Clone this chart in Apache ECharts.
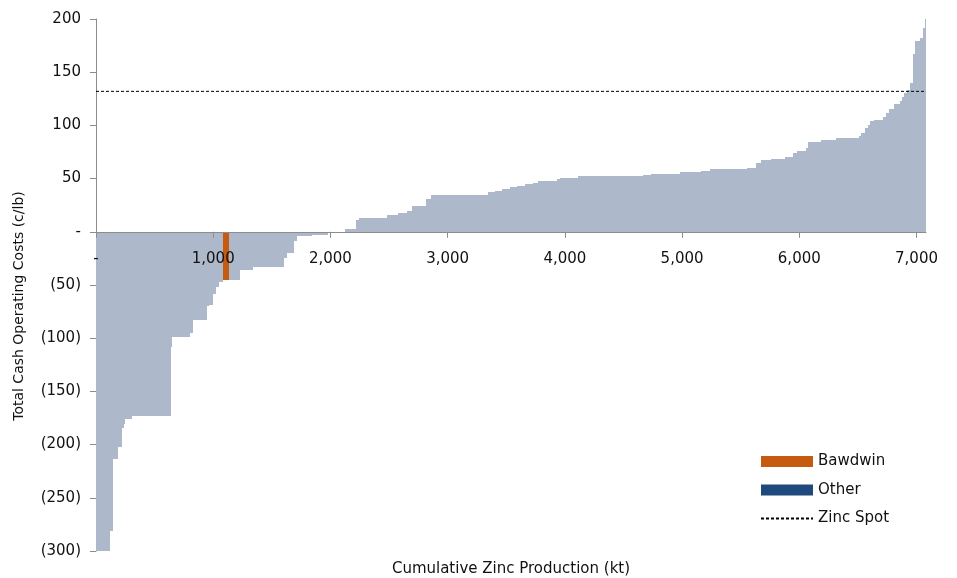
<!DOCTYPE html>
<html>
<head>
<meta charset="utf-8">
<script src="https://cdn.jsdelivr.net/npm/echarts@6/dist/echarts.min.js"></script>
<style>
  html, body { margin: 0; padding: 0; background: #fff; }
  #chart { width: 957px; height: 578px; }
</style>
</head>
<body>
<div id="chart"></div>
<script>
// Cumulative zinc production at the end of each producer step (kt)
const stepEnd = [121,143,184,220,235,249,309,642,651,804,827,946,961,997,1020,1046,1083,1134,1225,1336,1601,1627,1691,1712,1840,1977,2122,2216,2244,2483,2577,2649,2700,2814,2862,3346,3403,3460,3531,3588,3659,3730,3773,3930,3958,4114,4670,4735,4983,5162,5239,5553,5632,5670,5756,5880,5945,5982,6059,6073,6185,6311,6506,6526,6563,6582,6605,6640,6714,6742,6762,6804,6862,6876,6896,6919,6947,6967,6990,7026,7056,7069,7081];
// Total cash operating cost of each step (c/lb)
const stepCost = [-300,-281,-214,-202,-184,-181,-176,-173,-108,-99,-95,-83,-70,-69,-58,-52,-47,-45,-45,-35.5,-32.7,-25,-19.5,-9,-4.2,-2.6,-1.2,3.1,11,12.9,15.7,17.2,19.7,24.1,30.4,35,37.3,38.2,40.1,42,43.2,44.5,45.4,47.3,49.2,50.5,52,53.3,54.5,55.8,57.2,58.8,60.4,64.2,67.2,68.5,70,73.6,75.5,79.2,84,86.3,88,90.2,93.3,98,100.6,104.3,105,108,112,115.3,120,123,127,130,133.2,140.3,167,178.9,182.6,192,200];
// Bawdwin position on the curve
const bawdwinStartEnd = [1083, 1134];
const bawdwinCost = [-45];
// Zinc spot price (c/lb)
const zincSpot = 132;
// Axis ticks
const xTicks = [0,1000,2000,3000,4000,5000,6000,7000];
const yTicks = [-300,-250,-200,-150,-100,-50,0,50,100,150,200];

const FONT = 'DejaVu Sans';
const GRAY = '#adb9ca';
const ORANGE = '#c55a11';
const NAVY = '#1f497d';

// layout
const GRID_TOP = 19, GRID_BOTTOM = 27, CH = 578;
const yMin = -300, yMax = 200;
const plotH = CH - GRID_TOP - GRID_BOTTOM;
// shift x axis up so that it sits on the zero line
const zeroOffset = -(plotH * (0 - yMin) / (yMax - yMin));

// build step data [start, end, cost]
const curveData = stepEnd.map((e, i) => [i === 0 ? 0 : stepEnd[i - 1], e, stepCost[i]]);
const bawdwinData = [[bawdwinStartEnd[0], bawdwinStartEnd[1], bawdwinCost[0]]];
const xMax = stepEnd[stepEnd.length - 1];

function makeRender(color) {
  return function (params, api) {
    const x0 = api.value(0), x1 = api.value(1), v = api.value(2);
    const p0 = api.coord([x0, v]);
    const p1 = api.coord([x1, 0]);
    const left = Math.round(p0[0]), right = Math.round(p1[0]);
    const top = Math.round(Math.min(p0[1], p1[1]));
    const bottom = Math.round(Math.max(p0[1], p1[1]));
    return {
      type: 'rect',
      shape: { x: left, y: top, width: Math.max(right - left, 1), height: bottom - top },
      style: { fill: color }
    };
  };
}

const chart = echarts.init(document.getElementById('chart'), null, { renderer: 'canvas' });
chart.setOption({
  animation: false,
  backgroundColor: '#ffffff',
  textStyle: { fontFamily: FONT },
  grid: { left: 96, right: 31, top: GRID_TOP, bottom: GRID_BOTTOM, containLabel: false, outerBoundsMode: 'none' },
  legend: {
    orient: 'vertical',
    left: 755,
    top: 449,
    itemWidth: 52,
    itemHeight: 11,
    itemGap: 13.5,
    textStyle: { fontFamily: FONT, fontSize: 15, color: '#111' },
    data: [
      { name: 'Bawdwin', icon: 'rect' },
      { name: 'Other', icon: 'rect' },
      { name: 'Zinc Spot', itemStyle: { opacity: 0 } }
    ]
  },
  xAxis: {
    type: 'value',
    min: 0,
    max: xMax,
    interval: 1000,
    z: 5,
    offset: zeroOffset,
    name: 'Cumulative Zinc Production (kt)',
    nameLocation: 'middle',
    nameGap: 330,
    nameTextStyle: { fontFamily: FONT, fontSize: 15, color: '#111' },
    splitLine: { show: false },
    axisLine: { onZero: false, lineStyle: { color: '#8c8c8c', width: 1 } },
    axisTick: { show: true, length: 6, lineStyle: { color: '#8c8c8c' } },
    axisLabel: {
      margin: 20,
      fontFamily: FONT,
      fontSize: 15,
      color: '#111',
      showMaxLabel: false,
      formatter: function (v) {
        if (xTicks.indexOf(v) < 0) return '';
        return v === 0 ? '-' : v.toLocaleString('en-US');
      }
    }
  },
  yAxis: {
    type: 'value',
    min: yMin,
    max: yMax,
    interval: 50,
    name: 'Total Cash Operating Costs (c/lb)',
    nameLocation: 'middle',
    nameGap: 70,
    nameTextStyle: { fontFamily: FONT, fontSize: 14, color: '#111', padding: [0, 42, 0, 0] },
    splitLine: { show: false },
    axisLine: { show: true, lineStyle: { color: '#8c8c8c', width: 1 } },
    axisTick: { show: true, length: 6, lineStyle: { color: '#8c8c8c' } },
    axisLabel: {
      margin: 15,
      fontFamily: FONT,
      fontSize: 15,
      color: '#111',
      formatter: function (v) {
        if (yTicks.indexOf(v) < 0) return '';
        if (v === 0) return '-';
        return v < 0 ? '(' + (-v) + ')' : String(v);
      }
    }
  },
  series: [
    {
      name: 'Curve',
      type: 'custom',
      renderItem: makeRender(GRAY),
      encode: { x: [0, 1], y: 2 },
      itemStyle: { color: GRAY },
      data: curveData,
      z: 2
    },
    {
      name: 'Bawdwin',
      type: 'custom',
      renderItem: makeRender(ORANGE),
      encode: { x: [0, 1], y: 2 },
      itemStyle: { color: ORANGE },
      data: bawdwinData,
      z: 3
    },
    {
      name: 'Other',
      type: 'custom',
      renderItem: makeRender(NAVY),
      encode: { x: [0, 1], y: 2 },
      itemStyle: { color: NAVY },
      data: []
    },
    {
      name: 'Zinc Spot',
      type: 'line',
      symbol: 'none',
      showSymbol: false,
      data: [[0, zincSpot], [xMax, zincSpot]],
      itemStyle: { color: '#000' },
      lineStyle: { color: '#000', width: 1, type: [3, 2] },
      z: 4
    }
  ]
});
</script>
</body>
</html>
